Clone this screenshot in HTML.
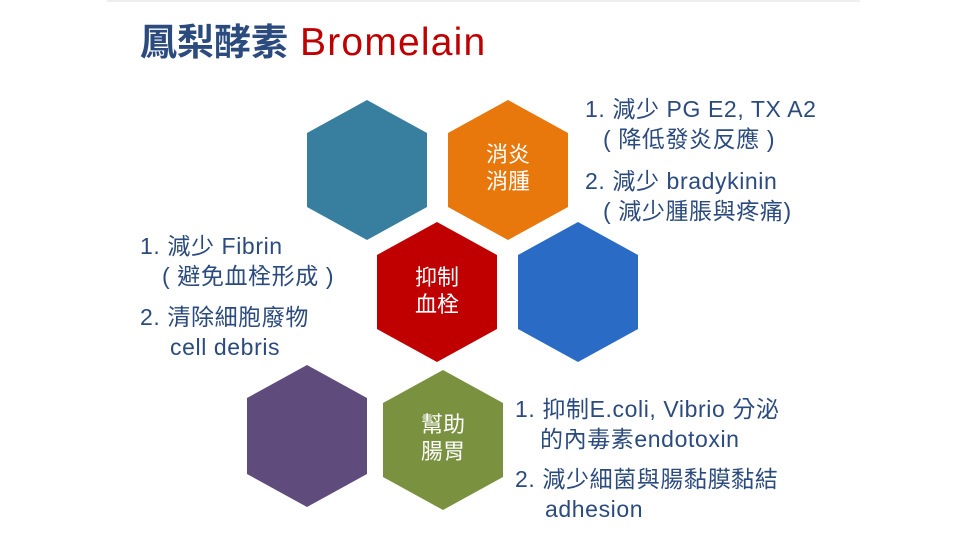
<!DOCTYPE html>
<html><head><meta charset="utf-8"><style>
body{margin:0;background:#fff;}
svg{display:block}
.t{font-family:"Liberation Sans","Noto Sans CJK TC",sans-serif;fill:#2b4a7e;font-size:23px;letter-spacing:0.6px}
.w{font-family:"Liberation Sans","Noto Sans CJK TC",sans-serif;fill:#fff;font-size:22px;text-anchor:middle}
</style></head><body>
<svg width="963" height="538" viewBox="0 0 963 538">
<rect x="107" y="0" width="753" height="2" fill="#eee"/>
<text x="140" y="55" font-family="Liberation Sans,'Noto Sans CJK TC',sans-serif" font-size="37" font-weight="bold"><tspan fill="#2b4a7e">鳳梨酵素</tspan><tspan fill="#c00000" font-weight="normal" font-size="39" letter-spacing="1.2"> Bromelain</tspan></text>
<polygon points="367,100 427,133 427,207 367,240 307,207 307,133" fill="#387e9e"/>
<polygon points="508,100 568,133 568,207 508,240 448,207 448,133" fill="#e8770c"/>
<polygon points="437,222 497,255 497,329 437,362 377,329 377,255" fill="#c00000"/>
<polygon points="578,222 638,255 638,329 578,362 518,329 518,255" fill="#2a6bc6"/>
<polygon points="307,365 367,398 367,474 307,507 247,474 247,398" fill="#604c7c"/>
<polygon points="443,370 503,403 503,477 443,510 383,477 383,403" fill="#7a9140"/>
<text class="w" x="508" y="162">消炎</text><text class="w" x="508" y="189">消腫</text>
<text class="w" x="437" y="285">抑制</text><text class="w" x="437" y="312">血栓</text>
<text class="w" x="443" y="432">幫助</text><text class="w" x="443" y="459">腸胃</text>
<text class="t" x="585" y="117">1. 減少 PG E2, TX A2</text>
<text class="t" x="603" y="147">( 降低發炎反應 )</text>
<text class="t" x="585" y="189">2. 減少 bradykinin</text>
<text class="t" x="603" y="219">( 減少腫脹與疼痛)</text>
<text class="t" x="140" y="254">1. 減少 Fibrin</text>
<text class="t" x="162" y="284">( 避免血栓形成 )</text>
<text class="t" x="140" y="325">2. 清除細胞廢物</text>
<text class="t" x="170" y="355">cell debris</text>
<text class="t" x="515" y="417">1. 抑制E.coli, Vibrio 分泌</text>
<text class="t" x="540" y="447">的內毒素endotoxin</text>
<text class="t" x="515" y="487">2. 減少細菌與腸黏膜黏結</text>
<text class="t" x="545" y="517">adhesion</text>
</svg>
</body></html>
